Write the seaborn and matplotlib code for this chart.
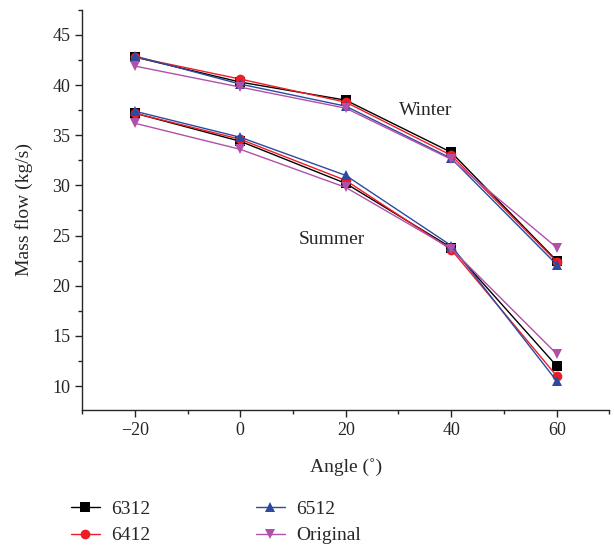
import pandas as pd
import matplotlib.pyplot as plt
import seaborn as sns

# Mass flow vs angle for different profiles, winter and summer
angles = [-20, 0, 20, 40, 60]
series_names = ['6312', '6412', '6512', 'Original']

winter_6312 = [42.8, 40.3, 38.5, 33.3, 22.5]
winter_6412 = [42.8, 40.6, 38.3, 33.0, 22.4]
winter_6512 = [42.9, 40.1, 37.9, 32.7, 22.1]
winter_orig = [41.9, 39.8, 37.7, 32.6, 23.8]

summer_6312 = [37.2, 34.4, 30.2, 23.8, 12.0]
summer_6412 = [37.2, 34.6, 30.5, 23.6, 11.0]
summer_6512 = [37.4, 34.8, 31.0, 24.0, 10.5]
summer_orig = [36.2, 33.6, 29.8, 23.7, 13.2]

sns.set_style('ticks')
plt.rcParams['font.family'] = ['Liberation Serif', 'DejaVu Serif']

styles = {
    '6312': dict(color='black', marker='s'),
    '6412': dict(color='#ee1c25', marker='o'),
    '6512': dict(color='#2b4ba0', marker='^'),
    'Original': dict(color='#b150a8', marker='v'),
}

winter = dict(zip(series_names, [winter_6312, winter_6412, winter_6512, winter_orig]))
summer = dict(zip(series_names, [summer_6312, summer_6412, summer_6512, summer_orig]))

fig = plt.figure(figsize=(6.14, 5.49), dpi=100)
ax = fig.add_axes([0.1336, 0.253, 0.859, 0.729])

for name in series_names:
    st = styles[name]
    for season, data in (('winter', winter), ('summer', summer)):
        df = pd.DataFrame({'angle': angles, 'flow': data[name]})
        sns.lineplot(data=df, x='angle', y='flow', ax=ax, color=st['color'],
                     marker=st['marker'], markersize=7, markeredgewidth=0,
                     linewidth=1.0, label=name if season == 'winter' else None)

ax.set_xlim(-30, 70)
ax.set_ylim(7.6, 47.4)
ax.set_xticks([-20, 0, 20, 40, 60])
ax.set_xticklabels(['\u221220', '0', '20', '40', '60'])
ax.set_xticks([-30, -10, 10, 30, 50, 70], minor=True)
ax.set_yticks([10, 15, 20, 25, 30, 35, 40, 45])
ax.set_yticks([12.5, 17.5, 22.5, 27.5, 32.5, 37.5, 42.5, 47.5], minor=True)
ax.tick_params(axis='both', which='major', direction='out', length=5, width=1, labelsize=13)
ax.tick_params(axis='both', which='minor', direction='out', length=3, width=1)
for side in ('top', 'right'):
    ax.spines[side].set_visible(False)
ax.spines['left'].set_linewidth(1)
ax.spines['bottom'].set_linewidth(1)

ax.set_xlabel('Angle (\u02da)', fontsize=14, labelpad=14)
ax.set_ylabel('Mass flow (kg/s)', fontsize=14, labelpad=14)

ax.text(30, 37.0, 'Winter', fontsize=14)
ax.text(11, 24.2, 'Summer', fontsize=14)

handles, labels = ax.get_legend_handles_labels()
ax.legend(handles, labels,
          loc='upper left', bbox_to_anchor=(-0.055, -0.182), ncol=2, frameon=False,
          fontsize=14, columnspacing=5.4, handlelength=1.5, handletextpad=0.6,
          labelspacing=0.45)

fig.savefig('out.png', dpi=100)
